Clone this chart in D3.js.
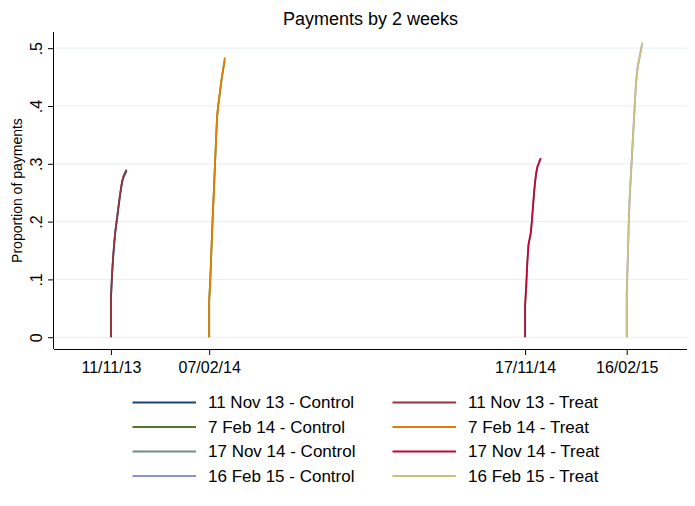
<!DOCTYPE html>
<html>
<head>
<meta charset="utf-8">
<script src="https://cdn.jsdelivr.net/npm/d3@7/dist/d3.min.js"></script>
<style>
  html, body { margin: 0; padding: 0; background: #fff; }
  svg { display: block; font-family: "Liberation Sans", Arial, Helvetica, sans-serif; }
</style>
</head>
<body>
<svg id="chart" width="695" height="506"></svg>
<script>
// ---- data ----
const title = "Payments by 2 weeks";
const yTitle = "Proportion of payments";
const cohortStarts = ["2013-11-11", "2014-02-07", "2014-11-17", "2015-02-16"];
const xTickLabels = ["11/11/13", "07/02/14", "17/11/14", "16/02/15"];
const yTicks = [0, 0.1, 0.2, 0.3, 0.4, 0.5];
const yTickLabels = ["0", ".1", ".2", ".3", ".4", ".5"];
const days = [0, 0, 1, 2, 3, 4, 5, 6, 7, 8, 9, 10, 11, 12, 13, 14];

const nov13Control = [0, 0.066, 0.108, 0.138, 0.163, 0.183, 0.198, 0.213, 0.228, 0.243, 0.256, 0.268, 0.275, 0.28, 0.284, 0.288];
const nov13Treat   = [0, 0.068, 0.11, 0.14, 0.165, 0.185, 0.2, 0.215, 0.23, 0.245, 0.258, 0.27, 0.277, 0.282, 0.286, 0.29];
const feb14Control = [0, 0.062, 0.1, 0.15, 0.2, 0.244, 0.289, 0.334, 0.378, 0.399, 0.414, 0.429, 0.444, 0.457, 0.469, 0.479];
const feb14Treat   = [0, 0.063, 0.1, 0.15, 0.2, 0.245, 0.29, 0.335, 0.38, 0.4, 0.415, 0.43, 0.445, 0.458, 0.47, 0.484];
const nov14Control = [0, 0.054, 0.089, 0.129, 0.159, 0.169, 0.179, 0.199, 0.224, 0.249, 0.269, 0.284, 0.294, 0.299, 0.304, 0.308];
const nov14Treat   = [0, 0.055, 0.09, 0.13, 0.16, 0.17, 0.18, 0.2, 0.225, 0.25, 0.27, 0.285, 0.295, 0.3, 0.305, 0.31];
const feb15Control = [0, 0.071, 0.139, 0.209, 0.254, 0.289, 0.324, 0.359, 0.394, 0.429, 0.454, 0.469, 0.479, 0.489, 0.499, 0.508];
const feb15Treat   = [0, 0.072, 0.14, 0.21, 0.255, 0.29, 0.325, 0.36, 0.395, 0.43, 0.455, 0.47, 0.48, 0.49, 0.5, 0.51];

const seriesNames = [
  "11 Nov 13 - Control", "11 Nov 13 - Treat",
  "7 Feb 14 - Control", "7 Feb 14 - Treat",
  "17 Nov 14 - Control", "17 Nov 14 - Treat",
  "16 Feb 15 - Control", "16 Feb 15 - Treat"
];
const seriesColors = ["#1a476f", "#90353b", "#55752f", "#e37e00", "#6e8e84", "#c10534", "#938dd2", "#cac27e"];
const seriesValues = [nov13Control, nov13Treat, feb14Control, feb14Treat, nov14Control, nov14Treat, feb15Control, feb15Treat];
const seriesCohort = [0, 0, 1, 1, 2, 2, 3, 3];
const xDomain = ["2013-09-21", "2015-04-11"];
const yDomain = [-0.0204, 0.528];

// ---- layout ----
const svg = d3.select("#chart");
const plot = { left: 54, right: 687, top: 32, bottom: 349 };
const parse = d3.utcParse("%Y-%m-%d");
const DAY = 86400000;

const x = d3.scaleUtc().domain(xDomain.map(parse)).range([plot.left, plot.right]);
const y = d3.scaleLinear().domain(yDomain).range([plot.bottom, plot.top]);

// gridlines
svg.append("g").selectAll("line").data(yTicks).join("line")
  .attr("x1", plot.left).attr("x2", plot.right)
  .attr("y1", d => y(d)).attr("y2", d => y(d))
  .attr("stroke", "#e6eff1").attr("stroke-width", 1);

// series
const line = d3.line().x(d => x(d.t)).y(d => y(d.v));
seriesValues.forEach((vals, i) => {
  const start = parse(cohortStarts[seriesCohort[i]]);
  const pts = vals.map((v, k) => ({ t: new Date(start.getTime() + days[k] * DAY), v }));
  svg.append("path").datum(pts)
    .attr("d", line)
    .attr("fill", "none")
    .attr("stroke", seriesColors[i])
    .attr("stroke-width", 1.8)
    .attr("stroke-linejoin", "round");
});

// x axis
const xAxis = d3.axisBottom(x)
  .tickValues(cohortStarts.map(parse))
  .tickFormat((d, i) => xTickLabels[i])
  .tickSize(6).tickSizeOuter(0);
const gx = svg.append("g").attr("transform", `translate(0,${plot.bottom})`).call(xAxis);
gx.select(".domain").attr("stroke", "#000").attr("d", `M${plot.left},0.5H${plot.right}`);
gx.selectAll(".tick line").attr("stroke", "#000");
gx.selectAll(".tick text").attr("font-size", 16).attr("fill", "#000")
  .attr("font-family", "Liberation Sans, Arial, sans-serif").attr("y", 13).attr("dy", "0.71em");

// y axis
const yAxis = d3.axisLeft(y).tickValues(yTicks).tickFormat((d, i) => yTickLabels[i]).tickSize(6).tickSizeOuter(0);
const gy = svg.append("g").attr("transform", `translate(${plot.left},0)`).call(yAxis);
gy.select(".domain").attr("stroke", "#000").attr("d", `M-0.5,${plot.top}V${plot.bottom}`);
gy.selectAll(".tick line").attr("stroke", "#000");
gy.selectAll(".tick text").remove();
gy.selectAll(".tick").append("text")
  .attr("transform", "translate(-17.5,0) rotate(-90)")
  .attr("text-anchor", "middle").attr("dy", "0.36em")
  .attr("font-size", 16).attr("fill", "#000")
  .attr("font-family", "Liberation Sans, Arial, sans-serif")
  .text((d, i) => yTickLabels[i]);

// titles
svg.append("text").attr("x", (plot.left + plot.right) / 2).attr("y", 25)
  .attr("text-anchor", "middle").attr("font-size", 18).attr("fill", "#000").text(title);
svg.append("text").attr("transform", `translate(17,${(plot.top + plot.bottom) / 2}) rotate(-90)`)
  .attr("text-anchor", "middle").attr("dy", "0.36em").attr("font-size", 14).attr("fill", "#000").text(yTitle);

// legend
const legCols = [132.5, 392.5];
const legRows = [402.5, 427, 451.5, 476];
seriesNames.forEach((name, i) => {
  const cx = legCols[i % 2], cy = legRows[Math.floor(i / 2)];
  svg.append("line").attr("x1", cx).attr("x2", cx + 63.5).attr("y1", cy).attr("y2", cy)
    .attr("stroke", seriesColors[i]).attr("stroke-width", 1.8);
  svg.append("text").attr("x", cx + 75.5).attr("y", cy).attr("dy", "0.35em")
    .attr("font-size", 17).attr("fill", "#000").text(name);
});
</script>
</body>
</html>
